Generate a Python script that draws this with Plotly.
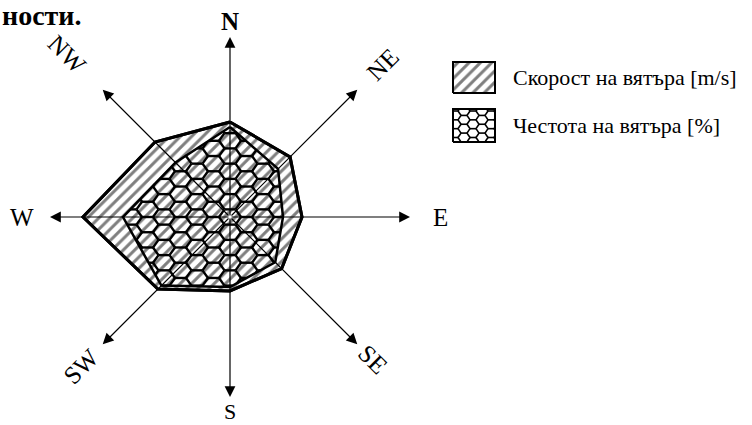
import numpy as np
import plotly.graph_objects as go

# wind rose data, one value per direction (same radial scale for both series)
DIRECTIONS = ["N", "NE", "E", "SE", "S", "SW", "W", "NW"]
WIND_SPEED = [9.5, 8.5, 7.2, 7.3, 7.4, 10.2, 14.7, 10.6]   # m/s
WIND_FREQ = [9.0, 6.8, 5.3, 6.4, 7.0, 9.7, 10.7, 7.7]      # %

LEGEND_LABELS = ["Скорост на вятъра [m/s]", "Честота на вятъра [%]"]
PAGE_TEXT = "ности."

# layout / styling
ARROW_LEN = 18.0
LABEL_R = [19.6, 21.6, 21.0, 20.2, 19.4, 21.1, 20.8, 23.0]
LABEL_SIZE = [25, 25, 25, 25, 22, 25, 25, 25]
LABEL_ANGLE = [0, -45, 0, 45, 0, -45, 0, 45]
SERIF = "Liberation Serif, Times New Roman, serif"
HATCH = dict(shape="/", size=8, solidity=0.38, fgcolor="black", bgcolor="white")


def polar_xy(values):
    ang = np.radians(np.arange(len(values)) * 45.0)
    r = np.asarray(values, dtype=float)
    return r * np.sin(ang), r * np.cos(ang)


def clip_segment(a, b, poly):
    # Cyrus-Beck clipping of segment a-b against convex polygon
    c = poly.mean(axis=0)
    d = b - a
    t0, t1 = 0.0, 1.0
    n = len(poly)
    for i in range(n):
        p, q = poly[i], poly[(i + 1) % n]
        e = q - p
        nrm = np.array([-e[1], e[0]])
        if np.dot(nrm, c - p) < 0:
            nrm = -nrm
        num = np.dot(nrm, a - p)
        den = np.dot(nrm, d)
        if abs(den) < 1e-12:
            if num < 0:
                return None
            continue
        t = -num / den
        if den > 0:
            t0 = max(t0, t)
        else:
            t1 = min(t1, t)
        if t0 >= t1:
            return None
    return a + t0 * d, a + t1 * d


def honeycomb(poly, a=1.1, squash=0.8):
    xs, ys = [], []
    hx = 1.5 * a
    hy = np.sqrt(3) * a * squash
    xmin, ymin = poly.min(axis=0) - 2 * a
    xmax, ymax = poly.max(axis=0) + 2 * a
    angles = np.radians([0, 60, 120, 180, 240])
    for i in range(int(np.floor(xmin / hx)), int(np.ceil(xmax / hx)) + 1):
        cx = i * hx
        off = hy / 2 if i % 2 else 0.0
        for j in range(int(np.floor(ymin / hy)) - 1, int(np.ceil(ymax / hy)) + 2):
            cy = j * hy + off
            v = [np.array([cx + a * np.cos(t), cy + a * squash * np.sin(t)]) for t in angles]
            # each cell owns its top, upper-left and lower-left edges
            for k in (1, 2, 3):
                seg = clip_segment(v[k], v[k + 1], poly)
                if seg is None:
                    continue
                xs += [seg[0][0], seg[1][0], None]
                ys += [seg[0][1], seg[1][1], None]
    return xs, ys


fig = go.Figure()

sx, sy = polar_xy(WIND_SPEED)
fx, fy = polar_xy(WIND_FREQ)

# wind speed polygon, diagonal hatch
fig.add_trace(go.Scatter(
    x=list(sx) + [sx[0]], y=list(sy) + [sy[0]],
    mode="lines", fill="toself", fillcolor="white", fillpattern=HATCH,
    line=dict(color="black", width=3), hoverinfo="skip",
))

# wind frequency polygon, honeycomb
freq_poly = np.column_stack([fx, fy])
hx_, hy_ = honeycomb(freq_poly)
fig.add_trace(go.Scatter(x=hx_, y=hy_, mode="lines",
                         line=dict(color="black", width=2.4), hoverinfo="skip"))
fig.add_trace(go.Scatter(
    x=list(fx) + [fx[0]], y=list(fy) + [fy[0]], mode="lines",
    line=dict(color="black", width=2.5), hoverinfo="skip",
))
fig.add_trace(go.Scatter(
    x=list(sx) + [sx[0]], y=list(sy) + [sy[0]], mode="lines",
    line=dict(color="black", width=3), hoverinfo="skip",
))

# compass arrows and labels
tip_x, tip_y = polar_xy([ARROW_LEN] * len(DIRECTIONS))
lab_x, lab_y = polar_xy(LABEL_R)
for d, x, y, lx, ly, ta, fs in zip(DIRECTIONS, tip_x, tip_y, lab_x, lab_y,
                                    LABEL_ANGLE, LABEL_SIZE):
    fig.add_annotation(x=x, y=y, ax=0, ay=0, axref="x", ayref="y", text="",
                       showarrow=True, arrowhead=2, arrowsize=1.8, arrowwidth=1.2,
                       arrowcolor="black")
    fig.add_annotation(x=lx, y=ly, text=("<b>N</b>" if d == "N" else d), showarrow=False,
                       textangle=ta, font=dict(family=SERIF, size=fs, color="black"))

# legend boxes
box_x0, box_x1 = 22.3, 26.5
boxes_y = [(12.4, 15.5), (7.5, 10.8)]

y0, y1 = boxes_y[0]
fig.add_trace(go.Scatter(
    x=[box_x0, box_x1, box_x1, box_x0, box_x0], y=[y0, y0, y1, y1, y0],
    mode="lines", fill="toself", fillcolor="white", fillpattern=HATCH,
    line=dict(color="black", width=2), hoverinfo="skip",
))
y0, y1 = boxes_y[1]
rect = np.array([[box_x0, y0], [box_x1, y0], [box_x1, y1], [box_x0, y1]])
bx, by = honeycomb(rect, a=0.6, squash=0.85)
fig.add_trace(go.Scatter(x=bx, y=by, mode="lines",
                         line=dict(color="black", width=1.6), hoverinfo="skip"))
fig.add_trace(go.Scatter(
    x=[box_x0, box_x1, box_x1, box_x0, box_x0], y=[y0, y0, y1, y1, y0],
    mode="lines", line=dict(color="black", width=2), hoverinfo="skip",
))

for label, (y0, y1) in zip(LEGEND_LABELS, boxes_y):
    fig.add_annotation(x=28.1, y=(y0 + y1) / 2 + 0.05, text=label, showarrow=False,
                       xanchor="left", font=dict(family=SERIF, size=22, color="black"))

fig.add_annotation(x=0.0, y=1.0, xref="paper", yref="paper", text=f"<b>{PAGE_TEXT}</b>",
                   showarrow=False, xanchor="left", yanchor="top", yshift=2,
                   font=dict(family=SERIF, size=28, color="black"))

fig.update_layout(
    width=752, height=425,
    margin=dict(l=0, r=0, t=0, b=0),
    paper_bgcolor="white", plot_bgcolor="white",
    showlegend=False,
    xaxis=dict(range=[-23.0, 52.2], visible=False, fixedrange=True),
    yaxis=dict(range=[-20.8, 21.7], visible=False, fixedrange=True),
)

# drop the default page margin so the figure sits at the window corner
fig.write_html("out.html", config={"displayModeBar": False},
               post_script="document.body.style.margin='0px';")
